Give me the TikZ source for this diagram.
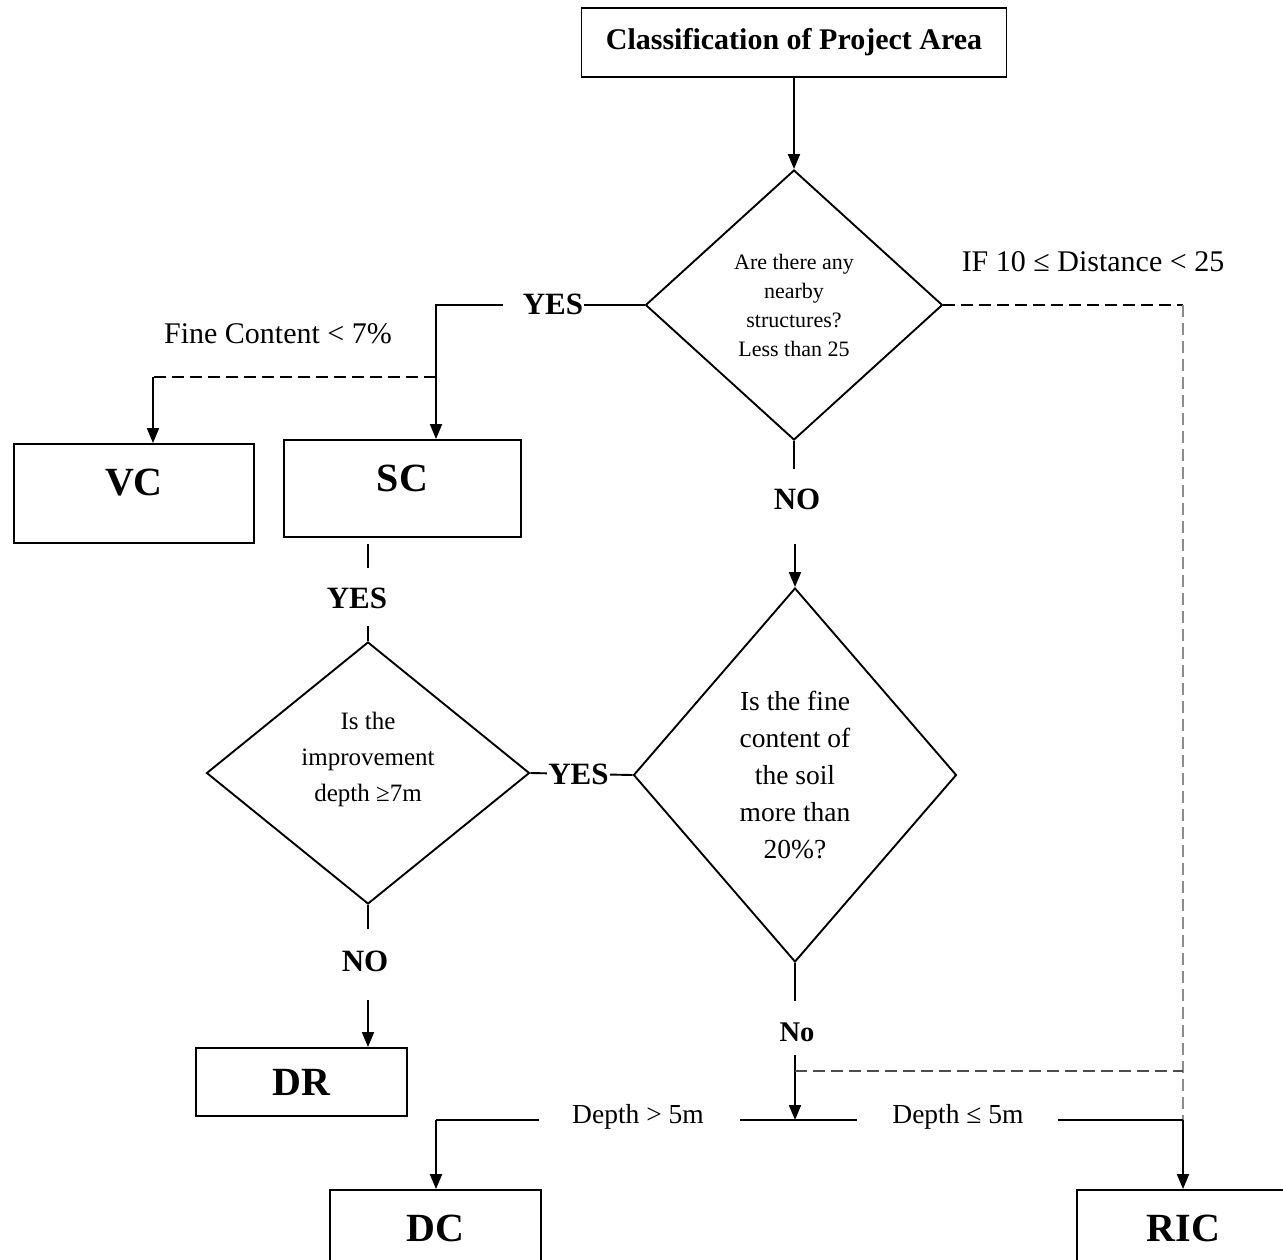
\documentclass[tikz,border=0pt]{standalone}
\usepackage{fontspec}
\setmainfont{Liberation Serif}
\usetikzlibrary{shapes.geometric,arrows.meta,calc}
\begin{document}
\begin{tikzpicture}[x=1pt,y=-1pt,
  line width=1.9pt,
  >={Triangle[length=15pt,width=12pt]},
  box/.style={draw, rectangle, inner sep=0pt, font=\fontsize{40}{44}\selectfont\bfseries},
  dia/.style={draw, diamond, inner sep=0pt, align=center},
  lbl/.style={font=\fontsize{31}{36}\selectfont\bfseries, inner sep=0pt},
  note/.style={font=\fontsize{30}{36}\selectfont, inner sep=0pt},
  dnote/.style={font=\fontsize{27.5}{32}\selectfont, inner sep=0pt},
  dsh/.style={dash pattern=on 12pt off 6pt}
]
\useasboundingbox (0,0) rectangle (1283,1259);
\clip (0,0) rectangle (1283,1259);

% boxes
\node[box, minimum width=425pt, minimum height=69pt, font=\fontsize{30}{36}\selectfont\bfseries] (cls) at (794,42.5) {Classification of Project Area};
\node[box, minimum width=240pt, minimum height=99pt, text depth=22pt] (vc) at (134,493.5) {VC};
\node[box, minimum width=237pt, minimum height=97pt, text depth=21pt] (sc) at (402.5,488.5) {SC};
\node[box, minimum width=211pt, minimum height=68pt] (dr) at (301.5,1082) {DR};
\node[box, minimum width=211pt, minimum height=100pt, text depth=24pt] (dc) at (435.5,1240) {DC};
\node[box, minimum width=213pt, minimum height=100pt, text depth=24pt] (ric) at (1183.5,1240) {RIC};

% diamonds
\node[dia, minimum width=297pt, minimum height=270pt, font=\fontsize{22}{29}\selectfont] (d1) at (794,305) {Are there any\\nearby\\structures?\\Less than 25};
\node[dia, minimum width=323pt, minimum height=262pt] (d2) at (368,773) {};
\node[font=\fontsize{25}{36}\selectfont, align=center, inner sep=0pt] (d2t) at (368,759) {Is the\\improvement\\depth ≥7m};
\node[dia, minimum width=323pt, minimum height=374pt, font=\fontsize{27.5}{37}\selectfont] (d3) at (795,775) {Is the fine\\content of\\the soil\\more than\\20\%?};

% coordinates
\coordinate (c1) at (436,305);
\coordinate (c2) at (436,377);
\coordinate (c3) at (153,377);
\coordinate (c4) at (795,1120);
\coordinate (c5) at (436,1120);
\coordinate (c6) at (1183,1120);
\coordinate (c7) at (1183,305);
\coordinate (c8) at (1183,1071);
\coordinate (c9) at (795,1071);

% labels
\node[lbl] (yes1) at (553,304) {YES};
\node[lbl] (yes2) at (357,598) {YES};
\node[lbl] (no1) at (797,499) {NO};
\node[lbl] (no2) at (365,961) {NO};
\node[lbl, font=\fontsize{28.5}{32}\selectfont\bfseries] (no3) at (797,1032) {No};
\node[note] (fine) at (278,334) {Fine Content < 7\%};
\node[note] (dist) at (1093,262) {IF 10 ≤ Distance < 25};
\node[dnote] (dgt) at (638,1117) {Depth > 5m};
\node[dnote] (dle) at (958,1117) {Depth ≤ 5m};

% connectors
\draw[->] (cls.south) -- (d1.north);
\draw (d1.west) -- (yes1.east |- d1.west);
\draw[->] ($(yes1.west |- c1)+(-19,0)$) -- (c1) -- (c1 |- sc.north);
\draw[dsh] (c2) -- (c3);
\draw[->] (c3) -- (c3 |- vc.north);

\draw ($(sc.south -| d2.north)+(0,6)$) -- ++(0,24);
\draw ($(d2.north)+(0,-15)$) -- (d2.north);

\draw (d2.east) -- node[lbl, fill=white, inner xsep=1pt, pos=0.47] {YES} (d3.west);

\draw (d1.south) -- ++(0,28);
\draw[->] ($(d3.north)+(0,-43)$) -- (d3.north);

\draw (d2.south) -- ++(0,24);
\draw[->] ($(dr.north -| d2.south)+(0,-47)$) -- (dr.north -| d2.south);

\draw (d3.south) -- ++(0,38);
\draw[->] ($(c4)+(0,-65)$) -- (c4);

\draw[dsh] (d1.east) -- (c7);
\draw[dsh, black!45] (c7) -- (c6);
\draw[dsh, black!70, line width=1.6pt] (c9) -- (c8);

\draw (c5) -- ($(dgt.west |- c5)+(-32,0)$);
\draw ($(dgt.east |- c5)+(35,0)$) -- ($(dle.west |- c5)+(-34,0)$);
\draw ($(dle.east |- c5)+(33,0)$) -- (c6);
\draw[->] (c5) -- (c5 |- dc.north);
\draw[->] (c6) -- (c6 |- ric.north);
\end{tikzpicture}
\end{document}
